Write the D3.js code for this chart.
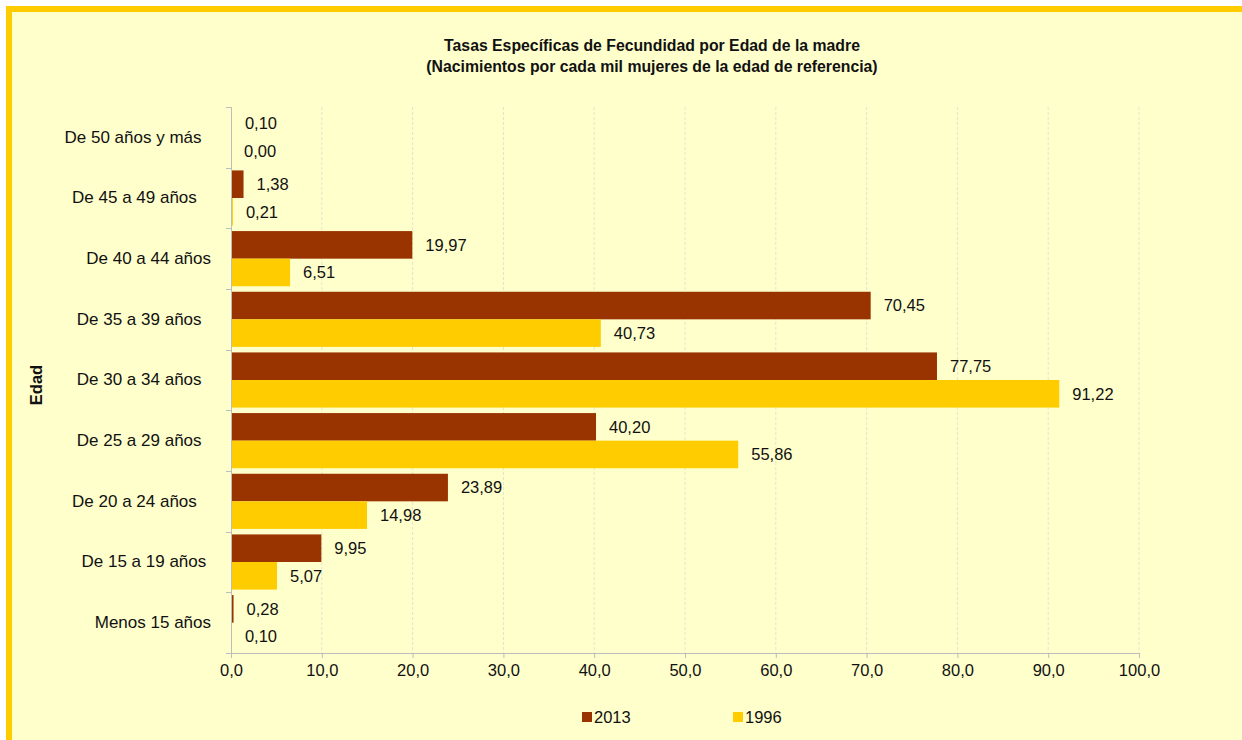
<!DOCTYPE html>
<html>
<head>
<meta charset="utf-8">
<script src="https://cdn.jsdelivr.net/npm/d3@7"></script>
<style>
  html, body { margin: 0; padding: 0; background: #ffffff; }
  svg { display: block; font-family: "Liberation Sans", Arial, sans-serif; }
</style>
</head>
<body>
<svg id="chart" width="1242" height="740"></svg>
<script>
// ---- Data ----
const categories = [
  "De 50 años y más  ",
  "De 45 a 49 años   ",
  "De 40 a 44 años",
  "De 35 a 39 años  ",
  "De 30 a 34 años  ",
  "De 25 a 29 años  ",
  "De 20 a 24 años   ",
  "De 15 a 19 años ",
  "Menos 15 años"
];
const seriesNames = ["2013", "1996"];
const values2013 = [0.10, 1.38, 19.97, 70.45, 77.75, 40.20, 23.89, 9.95, 0.28];
const values1996 = [0.00, 0.21, 6.51, 40.73, 91.22, 55.86, 14.98, 5.07, 0.10];
const xTicks = [0, 10, 20, 30, 40, 50, 60, 70, 80, 90, 100];
const titleLines = [
  "Tasas Específicas de Fecundidad por Edad de la madre",
  "(Nacimientos por cada mil mujeres de la edad de referencia)"
];
const yAxisTitle = "Edad";
const colors = { "2013": "#993300", "1996": "#FFCC00" };

// ---- Setup ----
const locale = d3.formatLocale({ decimal: ",", thousands: ".", grouping: [3], currency: ["", "€"] });
const fmt2 = locale.format(".2f");
const fmt1 = locale.format(".1f");

const svg = d3.select("#chart");
const W = 1242, H = 740;

// Chart background + border
svg.append("rect").attr("x", 9).attr("y", 9).attr("width", W + 20).attr("height", H + 20)
  .attr("fill", "#FFFFCC").attr("stroke", "#FFCC00").attr("stroke-width", 6);

const plot = { left: 231, right: 1139, top: 107, bottom: 653 };

const x = d3.scaleLinear().domain([0, 100]).range([plot.left, plot.right]);
const y0 = d3.scaleBand().domain(categories).range([plot.top, plot.bottom]).padding(0);
const y1 = d3.scaleBand().domain(seriesNames).range([0, y0.bandwidth()]).paddingInner(0).paddingOuter(0.1);

const rows = categories.map((c, i) => ({ cat: c, vals: [
  { s: "2013", v: values2013[i] },
  { s: "1996", v: values1996[i] }
]}));

// Gridlines (dashed vertical)
svg.append("g").selectAll("line").data(xTicks.filter(t => t > 0)).join("line")
  .attr("x1", d => x(d)).attr("x2", d => x(d))
  .attr("y1", plot.top).attr("y2", plot.bottom)
  .attr("stroke", "#e4e4cf").attr("stroke-width", 1).attr("stroke-dasharray", "3,2");

// Bars
const g = svg.append("g");
const groups = g.selectAll("g.row").data(rows).join("g")
  .attr("transform", d => `translate(0,${y0(d.cat)})`);
groups.selectAll("rect").data(d => d.vals).join("rect")
  .attr("x", x(0))
  .attr("y", d => y1(d.s))
  .attr("width", d => x(d.v) - x(0))
  .attr("height", y1.bandwidth())
  .attr("fill", d => colors[d.s]);

// Value labels
groups.selectAll("text").data(d => d.vals).join("text")
  .attr("x", d => x(d.v) + 13)
  .attr("y", d => y1(d.s) + y1.bandwidth() / 2)
  .attr("dy", "0.35em")
  .attr("font-size", "16.5px")
  .attr("fill", "#111")
  .text(d => fmt2(d.v));

// X axis
const xAxis = d3.axisBottom(x).tickValues(xTicks).tickFormat(fmt1).tickSize(5).tickPadding(6);
const gx = svg.append("g").attr("transform", `translate(0,${plot.bottom})`).call(xAxis);
gx.select(".domain").attr("stroke", "#bdbdbd").attr("d", `M${plot.left - 5},0.5H${plot.right}`);
gx.selectAll(".tick line").attr("stroke", "#bdbdbd");
gx.selectAll(".tick text").attr("font-size", "16.5px").attr("fill", "#111")
  .attr("font-family", "Liberation Sans, Arial, sans-serif");

// Y axis
const yAxis = d3.axisLeft(y0).tickSize(0).tickPadding(20);
const gy = svg.append("g").attr("transform", `translate(${plot.left},0)`).call(yAxis);
gy.select(".domain").attr("stroke", "#bdbdbd").attr("d", `M0.5,${plot.top}V${plot.bottom}`);
gy.selectAll(".tick text").attr("font-size", "17px").attr("fill", "#111")
  .attr("font-family", "Liberation Sans, Arial, sans-serif")
  .style("white-space", "pre");
// boundary tick marks between categories
const bounds = categories.map(c => y0(c)).concat([plot.bottom]);
svg.append("g").selectAll("line").data(bounds).join("line")
  .attr("x1", plot.left - 5).attr("x2", plot.left)
  .attr("y1", d => Math.round(d) + 0.5).attr("y2", d => Math.round(d) + 0.5)
  .attr("stroke", "#bdbdbd");

// Title
svg.append("g").selectAll("text").data(titleLines).join("text")
  .attr("x", 652).attr("y", (d, i) => 45 + i * 21)
  .attr("dy", "0.35em")
  .attr("text-anchor", "middle")
  .attr("font-weight", "bold").attr("font-size", "15.8px").attr("fill", "#111")
  .text(d => d);

// Y axis title
svg.append("text")
  .attr("transform", "translate(36,385) rotate(-90)")
  .attr("text-anchor", "middle").attr("dy", "0.35em")
  .attr("font-weight", "bold").attr("font-size", "16.5px").attr("fill", "#111")
  .text(yAxisTitle);

// Legend
const legendX = d3.scalePoint().domain(seriesNames).range([582, 733]);
const lg = svg.append("g").selectAll("g").data(seriesNames).join("g")
  .attr("transform", d => `translate(${legendX(d)},712)`);
lg.append("rect").attr("width", 10).attr("height", 10).attr("fill", d => colors[d]);
lg.append("text").attr("x", 12).attr("y", 5).attr("dy", "0.35em")
  .attr("font-size", "16.5px").attr("fill", "#111").text(d => d);
</script>
</body>
</html>
